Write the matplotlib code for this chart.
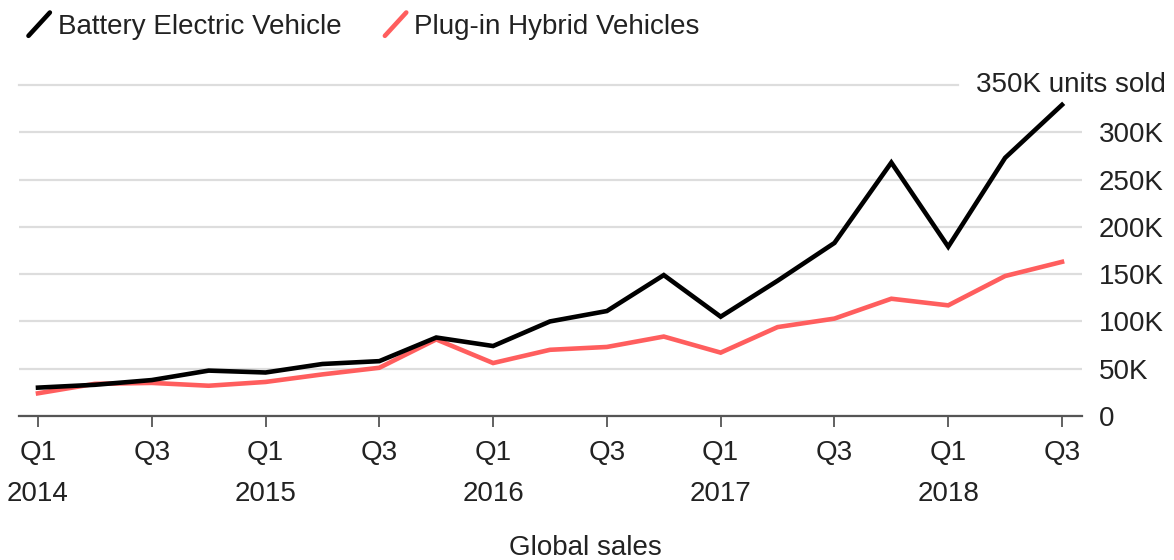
import matplotlib.pyplot as plt
from matplotlib.lines import Line2D
from matplotlib.legend_handler import HandlerBase
from matplotlib.ticker import FuncFormatter
import matplotlib.transforms as mtransforms

plt.rcParams['font.family'] = ['Liberation Sans', 'DejaVu Sans']

quarters = ['Q1\n2014', 'Q2', 'Q3', 'Q4',
            'Q1\n2015', 'Q2', 'Q3', 'Q4',
            'Q1\n2016', 'Q2', 'Q3', 'Q4',
            'Q1\n2017', 'Q2', 'Q3', 'Q4',
            'Q1\n2018', 'Q2', 'Q3']
bev = [30, 33, 38, 48, 46, 55, 58, 83, 74, 100, 111, 149, 105, 143, 183, 268, 179, 273, 329]
phev = [24, 34, 35, 32, 36, 44, 51, 81, 56, 70, 73, 84, 67, 94, 103, 124, 117, 148, 163]
yticks = [0, 50, 100, 150, 200, 250, 300]

bev = [v * 1000 for v in bev]
phev = [v * 1000 for v in phev]
x = list(range(len(quarters)))

BLACK = '#000000'
RED = '#ff5e5e'
TXT = '#222222'
FS = 20


class SlashHandler(HandlerBase):
    # legend key drawn as a short diagonal stroke
    def create_artists(self, legend, orig_handle, xdescent, ydescent,
                       width, height, fontsize, trans):
        x0 = -xdescent + width * 0.15
        x1 = -xdescent + width * 0.85
        y0 = -ydescent - height * 0.1
        y1 = -ydescent + height * 1.1
        ln = Line2D([x0, x1], [y0, y1], color=orig_handle.get_color(),
                    lw=orig_handle.get_linewidth(), solid_capstyle='round',
                    transform=trans)
        return [ln]


fig = plt.figure(figsize=(11.74, 5.6), dpi=100)
ax = fig.add_axes([19 / 1174, 1 - 416 / 560, (1082 - 19) / 1174, (416 - 85) / 560])

l1, = ax.plot(x, bev, color=BLACK, lw=3.3, solid_joinstyle='miter', zorder=3)
l2, = ax.plot(x, phev, color=RED, lw=3.3, solid_joinstyle='miter', zorder=2)

ax.set_xlim(-19 / 56.9, 18 + 20 / 56.9)
ax.set_ylim(0, 350000)

ax.set_xticks(x[::2])
ax.set_xticklabels(quarters[::2])
ax.tick_params(axis='x', length=8, width=1.3, color='#555555', pad=9,
               labelsize=FS, labelcolor=TXT)
for lbl in ax.get_xticklabels():
    lbl.set_linespacing(1.75)
    lbl.set_verticalalignment('top')

ax.yaxis.tick_right()
ax.set_yticks([v * 1000 for v in yticks])
ax.yaxis.set_major_formatter(FuncFormatter(lambda v, p: '0' if v == 0 else '%dK' % (v / 1000)))
ax.tick_params(axis='y', length=0, pad=12, labelsize=FS, labelcolor=TXT)
for lbl in ax.get_yticklabels():
    lbl.set_horizontalalignment('left')

ax.yaxis.grid(True, color='#dddddd', lw=1.6)
ax.set_axisbelow(True)
ax.axhline(350000, xmax=(958 - 19) / (1082 - 19), color='#dddddd', lw=1.6, clip_on=False)

for s in ['top', 'left', 'right']:
    ax.spines[s].set_visible(False)
ax.spines['bottom'].set_color('#555555')
ax.spines['bottom'].set_linewidth(1.6)

trans = mtransforms.blended_transform_factory(fig.transFigure, ax.transData)
ax.text(1166 / 1174, 350000, '350K units sold', transform=trans, ha='right',
        va='center', fontsize=FS, color=TXT)

fig.text(585 / 1174, 1 - 548 / 560, 'Global sales', ha='center', va='center',
         fontsize=FS, color=TXT)

fig.legend([l1, l2], ['Battery Electric Vehicle', 'Plug-in Hybrid Vehicles'],
           handler_map={Line2D: SlashHandler()}, loc='upper left',
           bbox_to_anchor=(10 / 1174, 1.0), ncol=2, frameon=False,
           fontsize=FS, handlelength=1.1, handletextpad=0.12, columnspacing=1.4,
           labelcolor=TXT, borderaxespad=0.1)

fig.savefig('out.png', dpi=100)
